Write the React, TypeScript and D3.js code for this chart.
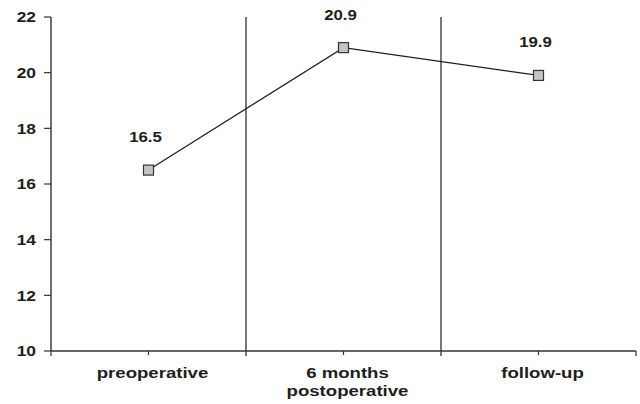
import React, { useEffect, useRef } from 'react';
import * as d3 from 'd3';

const categories = ['preoperative', '6 months\npostoperative', 'follow-up'];
const values = [16.5, 20.9, 19.9];
const yTicks = [10, 12, 14, 16, 18, 20, 22];

const App: React.FC = () => {
  const svgRef = useRef<SVGSVGElement | null>(null);

  const width = 640;
  const height = 404;
  const margin = { top: 17, right: 4, bottom: 53, left: 51 };
  const innerW = width - margin.left - margin.right;
  const innerH = height - margin.top - margin.bottom;

  useEffect(() => {
    const root = d3.select(svgRef.current);
    root.selectAll('*').remove();

    const svg = root
      .append('g')
      .attr('transform', `translate(${margin.left}, ${margin.top})`);

    const font = '"Liberation Sans", Arial, Helvetica, sans-serif';
    const ink = '#1e1e1e';
    // the source text is a bit wider than plain Arial
    const stretch = 1.2;

    const x = d3.scaleBand().domain(categories).range([0, innerW]).padding(0);
    const y = d3.scaleLinear().domain([10, 22]).range([innerH, 0]);

    // vertical separators between categories
    svg
      .selectAll('.sep')
      .data(categories.slice(1))
      .join('line')
      .attr('x1', (d) => x(d)!)
      .attr('x2', (d) => x(d)!)
      .attr('y1', 0)
      .attr('y2', innerH + 5)
      .attr('stroke', ink)
      .attr('stroke-width', 1.2);

    // x axis
    const xAxis = svg.append('g').attr('transform', `translate(0, ${innerH})`);
    xAxis
      .append('line')
      .attr('x1', 0)
      .attr('x2', innerW)
      .attr('stroke', '#333')
      .attr('stroke-width', 1.4);
    xAxis
      .selectAll('.ctick')
      .data(categories)
      .join('line')
      .attr('x1', (d) => x(d)! + x.bandwidth() / 2)
      .attr('x2', (d) => x(d)! + x.bandwidth() / 2)
      .attr('y1', 0)
      .attr('y2', 4)
      .attr('stroke', '#333')
      .attr('stroke-width', 1.2);
    xAxis
      .selectAll('.btick')
      .data([0, innerW])
      .join('line')
      .attr('x1', (d) => d)
      .attr('x2', (d) => d)
      .attr('y1', 0)
      .attr('y2', 5)
      .attr('stroke', '#333')
      .attr('stroke-width', 1.2);

    const labels = xAxis
      .selectAll('.xlabel')
      .data(categories)
      .join('text')
      .attr('transform', (d) => `translate(${x(d)! + x.bandwidth() / 2 + 4}, 27) scale(${stretch}, 1)`)
      .attr('text-anchor', 'middle')
      .attr('font-family', font)
      .attr('font-weight', 'bold')
      .attr('font-size', 15.5)
      .attr('fill', ink);
    labels.each(function (d) {
      const t = d3.select(this);
      d.split('\n').forEach((line, i) => {
        t.append('tspan')
          .attr('x', 0)
          .attr('y', i * 18)
          .text(line);
      });
    });

    // y axis
    const yAxis = svg.append('g');
    yAxis
      .append('line')
      .attr('y1', 0)
      .attr('y2', innerH)
      .attr('stroke', '#333')
      .attr('stroke-width', 1.4);
    yAxis
      .selectAll('.ytick')
      .data(yTicks)
      .join('line')
      .attr('x1', -7)
      .attr('x2', 0)
      .attr('y1', (d) => y(d))
      .attr('y2', (d) => y(d))
      .attr('stroke', '#333')
      .attr('stroke-width', 1.2);
    yAxis
      .selectAll('.ylabel')
      .data(yTicks)
      .join('text')
      .attr('transform', (d) => `translate(-15, ${y(d)}) scale(${stretch}, 1)`)
      .attr('dy', '0.36em')
      .attr('text-anchor', 'end')
      .attr('font-family', font)
      .attr('font-weight', 'bold')
      .attr('font-size', 14.5)
      .attr('fill', ink)
      .text((d) => d);

    // series line
    const pts = categories.map((c, i) => ({ c, v: values[i] }));
    const line = d3
      .line<{ c: string; v: number }>()
      .x((d) => x(d.c)! + x.bandwidth() / 2)
      .y((d) => y(d.v));
    svg
      .append('path')
      .datum(pts)
      .attr('d', line)
      .attr('fill', 'none')
      .attr('stroke', ink)
      .attr('stroke-width', 1.2);

    // markers
    svg
      .selectAll('.marker')
      .data(pts)
      .join('rect')
      .attr('x', (d) => x(d.c)! + x.bandwidth() / 2 - 5)
      .attr('y', (d) => y(d.v) - 5)
      .attr('width', 10)
      .attr('height', 10)
      .attr('fill', '#c4c4c4')
      .attr('stroke', '#333')
      .attr('stroke-width', 1.2);

    // value labels
    svg
      .selectAll('.vlabel')
      .data(pts)
      .join('text')
      .attr(
        'transform',
        (d) => `translate(${x(d.c)! + x.bandwidth() / 2 - 3}, ${y(d.v) - 28}) scale(${stretch}, 1)`,
      )
      .attr('text-anchor', 'middle')
      .attr('font-family', font)
      .attr('font-weight', 'bold')
      .attr('font-size', 14)
      .attr('fill', ink)
      .text((d) => d.v.toFixed(1));
  });

  return (
    <svg
      ref={svgRef}
      width={width}
      height={height}
      style={{ position: 'absolute', left: 0, top: 0, background: '#fff' }}
    ></svg>
  );
};

export default App;
